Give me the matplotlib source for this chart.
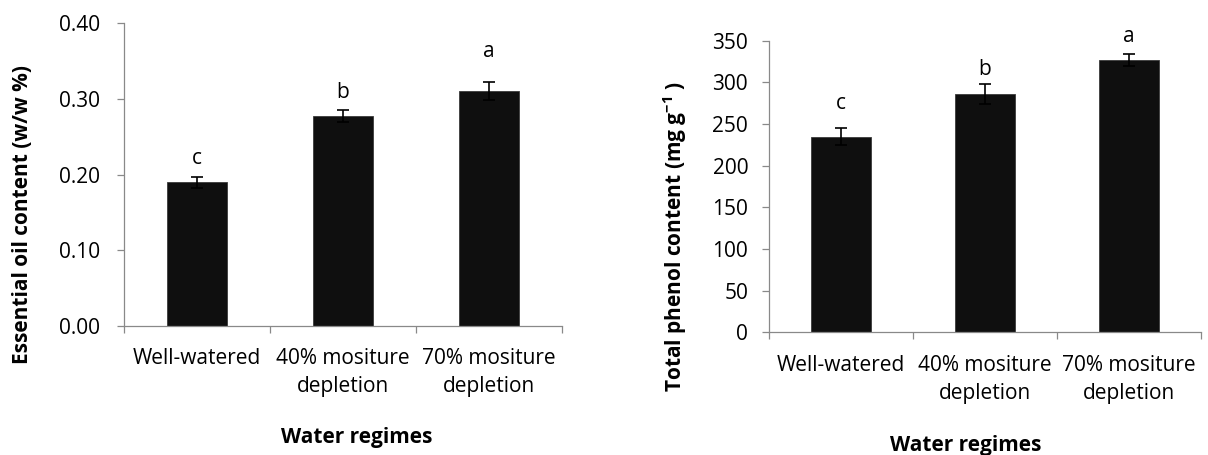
import matplotlib
matplotlib.use("Agg")
import matplotlib.pyplot as plt
import numpy as np

categories = ["Well-watered", "40% mositure\ndepletion", "70% mositure\ndepletion"]
oil_values = [0.190, 0.277, 0.310]
oil_errors = [0.007, 0.008, 0.012]
oil_letters = ["c", "b", "a"]
oil_letter_y = [0.222, 0.309, 0.363]
oil_yticks = [0.00, 0.10, 0.20, 0.30, 0.40]

phenol_values = [235, 286, 327]
phenol_errors = [10, 12, 7.5]
phenol_letters = ["c", "b", "a"]
phenol_letter_y = [275, 315, 355]
phenol_yticks = [0, 50, 100, 150, 200, 250, 300, 350]

FONT = "Open Sans"
plt.rcParams["font.family"] = [FONT, "DejaVu Sans"]
plt.rcParams["mathtext.fontset"] = "custom"
plt.rcParams["mathtext.rm"] = FONT
plt.rcParams["mathtext.bf"] = FONT + ":bold"

W, H = 1208, 455
fig = plt.figure(figsize=(W / 100, H / 100), dpi=100)

def px_axes(x0, y_top, x1, y_bot):
    return fig.add_axes([x0 / W, (H - y_bot) / H, (x1 - x0) / W, (y_bot - y_top) / H])

AX_COL = "#898989"
FS = 15

def style(ax, vals, errs, letters, letter_y, yticks, fmt, ypad, xpad):
    x = np.arange(len(vals))
    ax.bar(x, vals, width=0.41, color="#0f0f0f", edgecolor="#3a3a3a", linewidth=0.6, zorder=2)
    ax.errorbar(x, vals, yerr=errs, fmt="none", ecolor="black", elinewidth=1.2,
                capsize=4.3, capthick=1.2, zorder=3)
    for xi, l, ly in zip(x, letters, letter_y):
        ax.text(xi, ly, l, ha="center", va="center", fontsize=FS)
    ax.set_xlim(-0.5, len(vals) - 0.5)
    ax.set_ylim(yticks[0], yticks[-1])
    ax.set_yticks(yticks)
    ax.set_yticklabels([fmt(v) for v in yticks], fontsize=FS)
    ax.set_xticks(x)
    ax.set_xticklabels(categories, fontsize=FS, linespacing=1.45)
    ax.set_xticks(np.arange(len(vals) + 1) - 0.5, minor=True)
    ax.tick_params(axis="x", which="major", length=0, pad=xpad)
    ax.tick_params(axis="x", which="minor", length=5, color=AX_COL, width=0.9)
    ax.tick_params(axis="y", length=5, color=AX_COL, width=0.9, pad=ypad)
    for s in ["top", "right"]:
        ax.spines[s].set_visible(False)
    for s in ["left", "bottom"]:
        ax.spines[s].set_color(AX_COL)
        ax.spines[s].set_linewidth(0.9)
    ax.spines["bottom"].set_zorder(4)

ax1 = px_axes(124, 23.3, 562, 326)
style(ax1, oil_values, oil_errors, oil_letters, oil_letter_y, oil_yticks, lambda v: f"{v:.2f}", 12, 16)
ax2 = px_axes(769, 40.7, 1201, 332.3)
style(ax2, phenol_values, phenol_errors, phenol_letters, phenol_letter_y, phenol_yticks, lambda v: f"{v:g}", 10, 16)

fig.text(23 / W, 1 - 215 / H, "Essential oil content (w/w %)", rotation=90,
         ha="center", va="center", fontsize=FS, fontweight="bold")
fig.text(357 / W, 1 - 437 / H, "Water regimes", ha="center", va="center",
         fontsize=FS, fontweight="bold")
fig.text(675 / W, 1 - 237 / H, r"Total phenol content (mg g$^{\mathbf{-1}}$ )", rotation=90,
         ha="center", va="center", fontsize=FS, fontweight="bold")
fig.text(966 / W, 1 - 445 / H, "Water regimes", ha="center", va="center",
         fontsize=FS, fontweight="bold")

fig.savefig("out.png", dpi=100)
